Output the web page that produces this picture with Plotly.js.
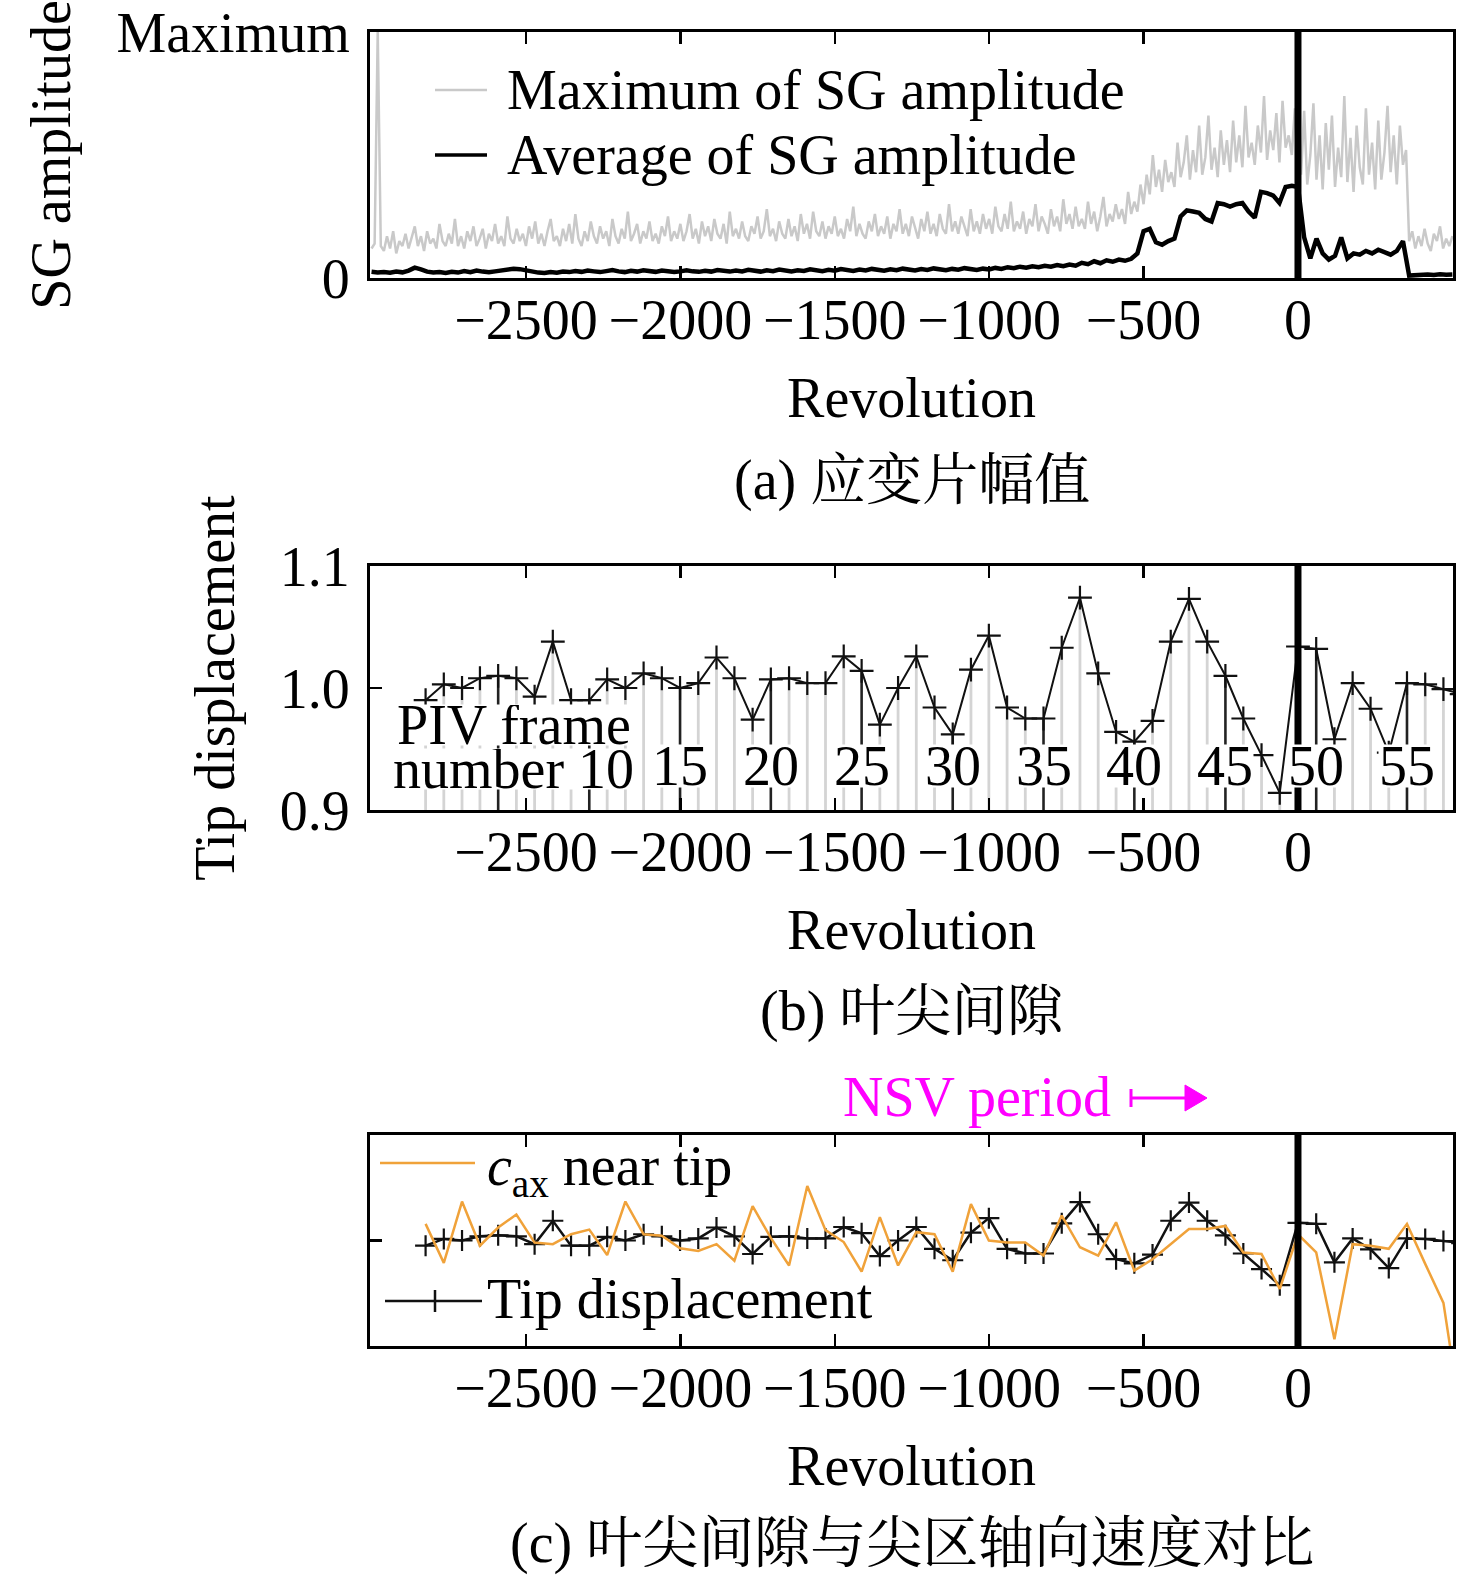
<!DOCTYPE html>
<html>
<head>
<meta charset="utf-8">
<script src="https://cdn.plot.ly/plotly-3.0.1.min.js"></script>
<style>
html,body{margin:0;padding:0;background:#fff;}
#chart{width:1476px;height:1580px;}
</style>
</head>
<body>
<div id="chart"></div>
<script>
// ---------------- DATA ----------------
// (a) strain-gauge amplitude, normalised 0..1 (= "Maximum")
// maximum: sampled every 10 revolutions from -3000
const sgMaxRevStart = -3000;
const sgMaxRevStep = 10;
const sgMaxAmp = [
  0.12, 0.14, 1.00, 0.13, 0.11, 0.17, 0.12, 0.19, 0.10, 0.15,
  0.13, 0.18, 0.12, 0.16, 0.21, 0.13, 0.17, 0.11, 0.19, 0.14,
  0.16, 0.12, 0.22, 0.15, 0.13, 0.18, 0.14, 0.24, 0.13, 0.17,
  0.12, 0.19, 0.15, 0.21, 0.13, 0.16, 0.20, 0.12, 0.18, 0.15,
  0.22, 0.14, 0.17, 0.13, 0.25, 0.16, 0.14, 0.20, 0.15, 0.18,
  0.13, 0.21, 0.16, 0.23, 0.14, 0.18, 0.13, 0.19, 0.24, 0.15,
  0.17, 0.13, 0.20, 0.15, 0.22, 0.14, 0.26, 0.16, 0.13, 0.19,
  0.15, 0.23, 0.17, 0.14, 0.21, 0.16, 0.19, 0.13, 0.24, 0.17,
  0.14, 0.20, 0.16, 0.27, 0.15, 0.18, 0.22, 0.14, 0.19, 0.16,
  0.23, 0.15, 0.18, 0.14, 0.21, 0.17, 0.25, 0.15, 0.19, 0.16,
  0.22, 0.15, 0.19, 0.26, 0.16, 0.20, 0.14, 0.23, 0.17, 0.21,
  0.15, 0.24, 0.18, 0.16, 0.22, 0.14, 0.27, 0.17, 0.20, 0.16,
  0.23, 0.17, 0.15, 0.21, 0.18, 0.25, 0.16, 0.19, 0.28, 0.17,
  0.20, 0.15, 0.23, 0.18, 0.16, 0.24, 0.17, 0.21, 0.15, 0.26,
  0.18, 0.22, 0.16, 0.27, 0.19, 0.17, 0.23, 0.16, 0.21, 0.18,
  0.25, 0.17, 0.20, 0.16, 0.24, 0.19, 0.29, 0.17, 0.22, 0.18,
  0.16, 0.23, 0.19, 0.26, 0.17, 0.21, 0.18, 0.25, 0.16, 0.22,
  0.19, 0.28, 0.18, 0.22, 0.17, 0.25, 0.20, 0.16, 0.24, 0.19,
  0.27, 0.18, 0.22, 0.17, 0.26, 0.20, 0.18, 0.30, 0.19, 0.23,
  0.18, 0.25, 0.21, 0.17, 0.28, 0.19, 0.23, 0.18, 0.26, 0.20,
  0.24, 0.18, 0.29, 0.21, 0.19, 0.26, 0.20, 0.31, 0.19, 0.23,
  0.20, 0.27, 0.18, 0.24, 0.21, 0.30, 0.19, 0.25, 0.22, 0.18,
  0.28, 0.21, 0.25, 0.19, 0.32, 0.22, 0.26, 0.20, 0.29, 0.21,
  0.24, 0.20, 0.31, 0.22, 0.27, 0.19, 0.25, 0.33, 0.21, 0.26,
  0.23, 0.30, 0.24, 0.28, 0.22, 0.35, 0.26, 0.31, 0.27, 0.38,
  0.30, 0.42, 0.34, 0.50, 0.37, 0.44, 0.35, 0.48, 0.39, 0.43,
  0.37, 0.55, 0.41, 0.47, 0.58, 0.40, 0.52, 0.43, 0.62, 0.42,
  0.49, 0.66, 0.44, 0.53, 0.41, 0.60, 0.46, 0.56, 0.43, 0.64,
  0.47, 0.58, 0.45, 0.70, 0.49, 0.55, 0.46, 0.62, 0.51, 0.74,
  0.48, 0.60, 0.52, 0.67, 0.47, 0.72, 0.53, 0.58, 0.50, 0.69,
  0.55, 0.42, 0.68, 0.38, 0.50, 0.71, 0.40, 0.58, 0.36, 0.63,
  0.44, 0.66, 0.37, 0.53, 0.41, 0.74, 0.39, 0.57, 0.35, 0.62,
  0.45, 0.38, 0.69, 0.42, 0.55, 0.36, 0.64, 0.40, 0.51, 0.70,
  0.43, 0.58, 0.38, 0.62, 0.46, 0.52, 0.15, 0.19, 0.12, 0.17,
  0.13, 0.20, 0.14, 0.11, 0.18, 0.15, 0.21, 0.12, 0.16, 0.13,
  0.17
];
// average: sampled every 20 revolutions from -3000
const sgAvgRevStart = -3000;
const sgAvgRevStep = 20;
const sgAvgAmp = [
  0.025, 0.022, 0.024, 0.021, 0.026, 0.023, 0.030, 0.042, 0.035, 0.026,
  0.022, 0.024, 0.020, 0.025, 0.022, 0.028, 0.024, 0.030, 0.026, 0.023,
  0.027, 0.030, 0.034, 0.038, 0.036, 0.030, 0.025, 0.022, 0.020, 0.024,
  0.021, 0.026, 0.024, 0.028, 0.025, 0.030, 0.027, 0.024, 0.028, 0.032,
  0.027, 0.024, 0.029, 0.026, 0.031, 0.027, 0.025, 0.030, 0.028, 0.024,
  0.027, 0.031, 0.027, 0.025, 0.029, 0.026, 0.032, 0.028, 0.026, 0.030,
  0.027, 0.033, 0.029, 0.026, 0.031, 0.028, 0.034, 0.030, 0.027, 0.031,
  0.029, 0.035, 0.031, 0.028, 0.033, 0.030, 0.036, 0.032, 0.029, 0.034,
  0.031, 0.037, 0.033, 0.030, 0.035, 0.032, 0.038, 0.034, 0.031, 0.036,
  0.033, 0.039, 0.035, 0.032, 0.037, 0.034, 0.040, 0.036, 0.033, 0.038,
  0.035, 0.041, 0.037, 0.044, 0.040, 0.046, 0.042, 0.048, 0.044, 0.050,
  0.046, 0.053, 0.048, 0.055, 0.050, 0.062, 0.056, 0.068, 0.060, 0.072,
  0.066, 0.075, 0.070, 0.078, 0.100, 0.190, 0.200, 0.145, 0.135, 0.150,
  0.160, 0.250, 0.275, 0.270, 0.265, 0.240, 0.230, 0.305, 0.300, 0.290,
  0.300, 0.305, 0.270, 0.245, 0.350, 0.345, 0.335, 0.305, 0.370, 0.375,
  0.370, 0.165, 0.080, 0.160, 0.100, 0.075, 0.090, 0.165, 0.080, 0.100,
  0.095, 0.110, 0.100, 0.115, 0.105, 0.095, 0.110, 0.150, 0.010, 0.012,
  0.010, 0.014, 0.012, 0.015, 0.013, 0.014
];

// (b)/(c) PIV frames
const pivFrame = [
   1,  2,  3,  4,  5,  6,  7,  8,  9, 10,
  11, 12, 13, 14, 15, 16, 17, 18, 19, 20,
  21, 22, 23, 24, 25, 26, 27, 28, 29, 30,
  31, 32, 33, 34, 35, 36, 37, 38, 39, 40,
  41, 42, 43, 44, 45, 46, 47, 48, 49, 50,
  51, 52, 53, 54, 55, 56, 57, 58
];
const pivRev = [
  -2825, -2766, -2707, -2649, -2590, -2531, -2472, -2413, -2354, -2295,
  -2237, -2178, -2119, -2060, -2001, -1942, -1883, -1825, -1766, -1707,
  -1648, -1589, -1530, -1471, -1413, -1354, -1295, -1236, -1177, -1118,
  -1059, -1001,  -942,  -883,  -824,  -765,  -706,  -647,  -589,  -530,
   -471,  -412,  -353,  -294,  -235,  -177,  -118,   -59,     0,    59,
    118,   177,   235,   294,   353,   412,   471,   530
];
const tipDisplacement = [
  0.990, 1.003, 1.000, 1.008, 1.010, 1.008, 0.993, 1.038, 0.990, 0.990,
  1.007, 1.000, 1.012, 1.008, 1.000, 1.004, 1.025, 1.008, 0.974, 1.007,
  1.008, 1.004, 1.004, 1.026, 1.014, 0.970, 1.000, 1.026, 0.984, 0.962,
  1.015, 1.043, 0.984, 0.975, 0.975, 1.033, 1.074, 1.012, 0.964, 0.956,
  0.973, 1.038, 1.073, 1.038, 1.010, 0.975, 0.945, 0.914, 1.034, 1.032,
  0.958, 1.004, 0.983, 0.947, 1.004, 1.003, 0.999, 0.995
];
const caxNearTip = [
  1.032, 0.957, 1.075, 0.990, 1.025, 1.050, 0.996, 0.993, 1.012, 1.021,
  0.972, 1.075, 1.012, 1.009, 0.985, 0.980, 0.993, 0.961, 1.066, 1.005,
  0.952, 1.105, 1.020, 0.997, 0.940, 1.045, 0.952, 1.016, 1.012, 0.940,
  1.070, 1.000, 0.996, 0.996, 0.971, 1.048, 0.987, 0.971, 1.035, 0.942,
  0.964, 0.993, 1.022, 1.022, 1.028, 0.977, 0.974, 0.907, 1.012, 0.977,
  0.810, 0.993, 0.990, 0.984, 1.032, 0.955, 0.880, 0.650
];
const frameLabels = [15, 20, 25, 30, 35, 40, 45, 50, 55];
const xTickVals = [-2500, -2000, -1500, -1000, -500, 0];
const nsvStartRev = 0;

// ---------------- LAYOUT HELPERS ----------------
const W = 1476, H = 1580;
const px = v => v / W;
const py = v => 1 - v / H;
const SERIF = '"Liberation Serif", "Times New Roman", serif';
const CJK = '"Liberation Serif", "Noto Serif CJK SC", "Noto Sans CJK SC", serif';
const FS = 56;
const MAGENTA = '#ff00ff';
const GRAY = '#c9c9c9';
const ORANGE = '#f0a23a';

const sgMaxRev = sgMaxAmp.map((_, i) => sgMaxRevStart + sgMaxRevStep * i);
const sgAvgRev = sgAvgAmp.map((_, i) => sgAvgRevStart + sgAvgRevStep * i);

// stems built from the data arrays
const stemX = [], stemY = [], stem5X = [], stem5Y = [];
pivFrame.forEach((f, i) => {
  stemX.push(pivRev[i], pivRev[i], null);
  stemY.push(0.9, tipDisplacement[i], null);
  if (f % 5 === 0) {
    stem5X.push(pivRev[i], pivRev[i], null);
    stem5Y.push(0.9, tipDisplacement[i], null);
  }
});

const plusMarker = (size) => ({symbol: 'cross-thin', size: size, color: '#111', line: {width: 2.2, color: '#111'}});

const data = [
  {x: sgMaxRev, y: sgMaxAmp, xaxis: 'x', yaxis: 'y', type: 'scatter', mode: 'lines',
   name: 'Maximum of SG amplitude', line: {color: GRAY, width: 2.5}},
  {x: sgAvgRev, y: sgAvgAmp, xaxis: 'x', yaxis: 'y', type: 'scatter', mode: 'lines',
   name: 'Average of SG amplitude', line: {color: '#000', width: 4.5}},
  {x: stemX, y: stemY, xaxis: 'x2', yaxis: 'y2', type: 'scatter', mode: 'lines',
   name: 'frame stems', line: {color: '#d4d4d4', width: 2.8}},
  {x: stem5X, y: stem5Y, xaxis: 'x2', yaxis: 'y2', type: 'scatter', mode: 'lines',
   name: 'every 5th frame', line: {color: '#222', width: 2.5}},
  {x: pivRev, y: tipDisplacement, xaxis: 'x2', yaxis: 'y2', type: 'scatter', mode: 'lines+markers',
   name: 'Tip displacement', line: {color: '#111', width: 2}, marker: plusMarker(17)},
  {x: pivRev, y: tipDisplacement, xaxis: 'x3', yaxis: 'y3', type: 'scatter', mode: 'lines+markers',
   name: 'Tip displacement', line: {color: '#111', width: 2.5}, marker: plusMarker(15)},
  {x: pivRev, y: caxNearTip, xaxis: 'x3', yaxis: 'y3', type: 'scatter', mode: 'lines',
   name: 'c_ax near tip', line: {color: ORANGE, width: 2.5}}
];

const xDomain = [px(370), px(1453)];
const xCommon = {
  domain: xDomain, range: [-3005, 502], tickvals: xTickVals,
  ticks: 'inside', ticklen: 12, tickwidth: 2.5, tickcolor: '#000',
  showline: true, linewidth: 3, linecolor: '#000', mirror: 'ticks',
  showgrid: false, zeroline: false, ticklabelstandoff: -9,
  tickfont: {family: SERIF, size: FS, color: '#000'},
  title: {text: 'Revolution', font: {family: SERIF, size: FS, color: '#000'}, standoff: 28}
};
const yCommon = {
  showline: true, linewidth: 3, linecolor: '#000', mirror: true,
  showgrid: false, zeroline: false, ticklabelstandoff: 6,
  tickfont: {family: SERIF, size: FS, color: '#000'}
};
const yTitleFont = {family: SERIF, size: FS, color: '#000'};

const annFont = {family: SERIF, size: FS, color: '#000'};
const txt = (x, y, text, extra) => Object.assign({xref: 'paper', yref: 'paper', x: px(x), y: py(y), text: text,
  showarrow: false, xanchor: 'center', yanchor: 'middle', font: annFont}, extra || {});

const annotations = [
  txt(912, 480, '(a) 应变片幅值', {font: {family: CJK, size: FS, color: '#000'}}),
  txt(912, 1011, '(b) 叶尖间隙', {font: {family: CJK, size: FS, color: '#000'}}),
  txt(912, 1543, '(c) 叶尖间隙与尖区轴向速度对比', {font: {family: CJK, size: FS, color: '#000'}}),
  // legend texts (a)
  txt(505, 90, 'Maximum of SG amplitude', {xanchor: 'left'}),
  txt(505, 155, 'Average of SG amplitude', {xanchor: 'left'}),
  // legend texts (c)
  txt(485, 1170, '<i>c</i><sub>ax</sub> near tip', {xanchor: 'left'}),
  txt(485, 1299, 'Tip displacement', {xanchor: 'left'}),
  // frame-number labels (b)
  txt(396, 725, 'PIV frame', {xanchor: 'left', bgcolor: '#fff', borderpad: 0, height: 40}),
  txt(392, 769, 'number 10', {xanchor: 'left', bgcolor: '#fff', borderpad: 0, height: 40}),
  // NSV period
  txt(977, 1097, 'NSV period', {font: {family: SERIF, size: FS, color: MAGENTA}})
];
frameLabels.forEach(f => {
  const i = pivFrame.indexOf(f);
  annotations.push({xref: 'x2', yref: 'y2', x: pivRev[i], y: 0.936, text: String(f),
    showarrow: false, xanchor: 'center', yanchor: 'middle', font: annFont,
    bgcolor: '#fff', borderpad: 0, height: 42});
});

const pline = (x0, y0, x1, y1, color, width) => ({type: 'line', xref: 'paper', yref: 'paper',
  x0: px(x0), y0: py(y0), x1: px(x1), y1: py(y1), line: {color: color, width: width}});

const shapes = [
  // NSV onset line in every panel
  {type: 'line', xref: 'x', yref: 'y domain', x0: nsvStartRev, x1: nsvStartRev, y0: 0, y1: 1, line: {color: '#000', width: 7}},
  {type: 'line', xref: 'x2', yref: 'y2 domain', x0: nsvStartRev, x1: nsvStartRev, y0: 0, y1: 1, line: {color: '#000', width: 7}},
  {type: 'line', xref: 'x3', yref: 'y3 domain', x0: nsvStartRev, x1: nsvStartRev, y0: 0, y1: 1, line: {color: '#000', width: 7}},
  // legend samples
  pline(435, 90, 487, 90, GRAY, 2.5),
  pline(435, 155, 487, 155, '#000', 3.5),
  pline(380, 1163, 475, 1163, ORANGE, 2.5),
  pline(385, 1301, 482, 1301, '#111', 2.5),
  pline(435, 1290, 435, 1312, '#111', 2.5),
  // NSV arrow  |---->
  pline(1131, 1089, 1131, 1107, MAGENTA, 3),
  pline(1131, 1098, 1190, 1098, MAGENTA, 3),
  {type: 'path', xref: 'paper', yref: 'paper',
   path: 'M' + px(1185) + ',' + py(1085) + ' L' + px(1207) + ',' + py(1098) + ' L' + px(1185) + ',' + py(1111) + ' Z',
   fillcolor: MAGENTA, line: {color: MAGENTA, width: 1}}
];

const layout = {
  width: W, height: H,
  margin: {l: 0, r: 0, t: 0, b: 0},
  paper_bgcolor: '#fff', plot_bgcolor: '#fff',
  font: {family: SERIF, size: FS, color: '#000'},
  showlegend: false,
  xaxis: Object.assign({}, xCommon, {anchor: 'y'}),
  xaxis2: Object.assign({}, xCommon, {anchor: 'y2'}),
  xaxis3: Object.assign({}, xCommon, {anchor: 'y3'}),
  yaxis: Object.assign({}, yCommon, {anchor: 'x', domain: [py(278), py(32)], range: [0, 1],
    tickvals: [0, 1], ticktext: ['0', 'Maximum'], ticks: '',
    title: {text: 'SG amplitude', font: yTitleFont, standoff: 28}}),
  yaxis2: Object.assign({}, yCommon, {anchor: 'x2', domain: [py(810), py(566)], range: [0.9, 1.1],
    tickvals: [0.9, 1.0, 1.1], ticktext: ['0.9', '1.0', '1.1'], ticks: 'inside', ticklen: 12, tickwidth: 2.5, tickcolor: '#000',
    title: {text: 'Tip displacement', font: yTitleFont, standoff: 28}}),
  yaxis3: Object.assign({}, yCommon, {anchor: 'x3', domain: [py(1346), py(1135)], range: [0.797, 1.203],
    tickvals: [1.0], showticklabels: false, ticks: 'inside', ticklen: 12, tickwidth: 2.5, tickcolor: '#000'}),
  annotations: annotations,
  shapes: shapes
};

Plotly.newPlot('chart', data, layout, {staticPlot: true, displayModeBar: false});
</script>
</body>
</html>
